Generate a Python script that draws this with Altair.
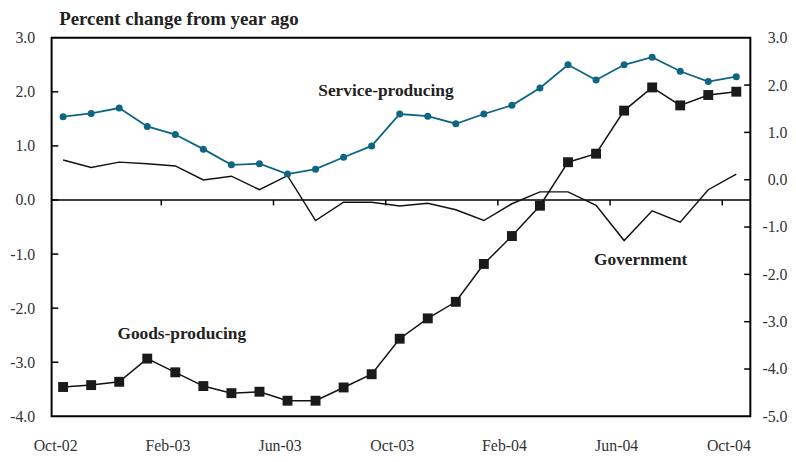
import altair as alt
import pandas as pd

months = ["Oct-02", "Nov-02", "Dec-02", "Jan-03", "Feb-03", "Mar-03", "Apr-03", "May-03",
          "Jun-03", "Jul-03", "Aug-03", "Sep-03", "Oct-03", "Nov-03", "Dec-03", "Jan-04",
          "Feb-04", "Mar-04", "Apr-04", "May-04", "Jun-04", "Jul-04", "Aug-04", "Sep-04", "Oct-04"]

service = [1.54, 1.60, 1.70, 1.36, 1.21, 0.94, 0.65, 0.67, 0.48, 0.57, 0.79, 1.00, 1.59,
           1.55, 1.41, 1.59, 1.75, 2.07, 2.50, 2.22, 2.50, 2.64, 2.38, 2.19, 2.28]

government = [0.74, 0.60, 0.70, 0.67, 0.63, 0.37, 0.44, 0.19, 0.45, -0.38, -0.04, -0.04, -0.11,
              -0.06, -0.18, -0.38, -0.07, 0.15, 0.15, -0.10, -0.75, -0.20, -0.41, 0.19, 0.48]

goods = [-4.38, -4.34, -4.27, -3.78, -4.07, -4.36, -4.51, -4.48, -4.67, -4.67, -4.39, -4.11, -3.36,
         -2.93, -2.58, -1.78, -1.19, -0.55, 0.37, 0.55, 1.46, 1.95, 1.57, 1.79, 1.86]

x_label_names = ["Oct-02", "Feb-03", "Jun-03", "Oct-03", "Feb-04", "Jun-04", "Oct-04"]
left_tick_values = [-3, -2, -1, 0, 1, 2]
right_tick_values = [-4, -3, -2, -1, 0, 1, 2]
zero_tick_positions = [3.5, 7.5, 11.5, 15.5, 19.5, 23.5]

label_names = ["Service-producing", "Goods-producing", "Government"]
label_x = [11.51, 4.23, 20.59]
label_y = [2.02, -2.48, -1.11]

df = pd.DataFrame({"idx": list(range(len(months))), "month": months,
                   "service": service, "government": government, "goods": goods})
lt = pd.DataFrame({"v": left_tick_values})
rt = pd.DataFrame({"v": right_tick_values})
zt = pd.DataFrame({"t": zero_tick_positions})
zl = pd.DataFrame({"v": [0]})
labs = pd.DataFrame({"name": label_names, "lx": label_x, "ly": label_y})

XMIN, XMAX = -0.41, 24.5
FONT = "Liberation Serif"
TEAL = "#0f6584"

xscale = alt.Scale(domain=[XMIN, XMAX], nice=False, zero=False)
names_js = "[" + ",".join("'" + n + "'" for n in x_label_names) + "]"
xaxis = alt.Axis(values=list(range(0, 25, 4)), labelExpr=names_js + "[datum.value/4]",
                 title=None, labelOffset=-8, labelPadding=34, labelBaseline="alphabetic")

lscale = alt.Scale(domain=[-4, 3], nice=False, zero=False)
rscale = alt.Scale(domain=[-5, 3], nice=False, zero=False)
fmt = "(datum.value < 0 ? '-' : '') + format(abs(datum.value), '.1f')"
laxis = alt.Axis(values=list(range(-4, 4)), labelExpr=fmt, title=None, labelPadding=17, orient="left")
raxis = alt.Axis(values=list(range(-5, 4)), labelExpr=fmt, title=None, labelPadding=37,
                 labelAlign="right", orient="right")


def X(field):
    return alt.X(field, scale=xscale, axis=xaxis)


def YL(field):
    return alt.Y(field, scale=lscale, axis=laxis)


def YR(field):
    return alt.Y(field, scale=rscale, axis=raxis)


zero_line = alt.Chart(zl).mark_rule(color="black", strokeWidth=1.5).encode(y=YL("v:Q"))
zero_ticks = alt.Chart(zt).mark_rule(color="black", strokeWidth=1.5).encode(
    x=X("t:Q"), y=YL("v0:Q"), y2=alt.Y2("v1:Q")
).transform_calculate(v0="0", v1="-0.1")
left_ticks = alt.Chart(lt).mark_rule(color="black", strokeWidth=1.5).encode(
    y=YL("v:Q"), x=X("a:Q"), x2=alt.X2("b:Q")
).transform_calculate(a=str(XMIN), b=str(XMIN + 0.24))
gov_line = alt.Chart(df).mark_line(color="#111", strokeWidth=1.5).encode(x=X("idx:Q"), y=YL("government:Q"))
serv_line = alt.Chart(df).mark_line(color=TEAL, strokeWidth=1.8).encode(x=X("idx:Q"), y=YL("service:Q"))
serv_pts = alt.Chart(df).mark_point(filled=True, shape="circle", size=50, color=TEAL, opacity=1).encode(
    x=X("idx:Q"), y=YL("service:Q"))
texts = alt.Chart(labs).mark_text(font=FONT, fontSize=17.5, fontWeight="bold", color="#222",
                                  align="center", baseline="middle").encode(
    x=X("lx:Q"), y=YL("ly:Q"), text="name:N")

left_layer = alt.layer(zero_line, zero_ticks, left_ticks, gov_line, serv_line, serv_pts, texts)

right_ticks = alt.Chart(rt).mark_rule(color="black", strokeWidth=1.5).encode(
    y=YR("v:Q"), x=X("a:Q"), x2=alt.X2("b:Q")
).transform_calculate(a=str(XMAX - 0.22), b=str(XMAX))
goods_line = alt.Chart(df).mark_line(color="#111", strokeWidth=1.5).encode(x=X("idx:Q"), y=YR("goods:Q"))
goods_pts = alt.Chart(df).mark_point(filled=True, shape="square", size=100, color="#1a1a1a", opacity=1).encode(
    x=X("idx:Q"), y=YR("goods:Q"))

right_layer = alt.layer(right_ticks, goods_line, goods_pts)

chart = alt.layer(left_layer, right_layer).resolve_scale(y="independent").properties(
    width=705, height=382,
    padding={"left": 44, "top": 28, "right": 38, "bottom": 36},
    autosize=alt.AutoSizeParams(type="none"),
    title=alt.TitleParams("Percent change from year ago", anchor="start", dx=50,
                          offset=1, font=FONT, fontSize=19,
                          fontWeight="bold", color="#222"),
).configure_view(stroke="black", strokeWidth=2).configure_axis(
    grid=False, domain=False, ticks=False, labelFont=FONT, labelFontSize=16, labelColor="#333"
)

chart.save("out.html", embed_options={"renderer": "svg", "actions": False})
